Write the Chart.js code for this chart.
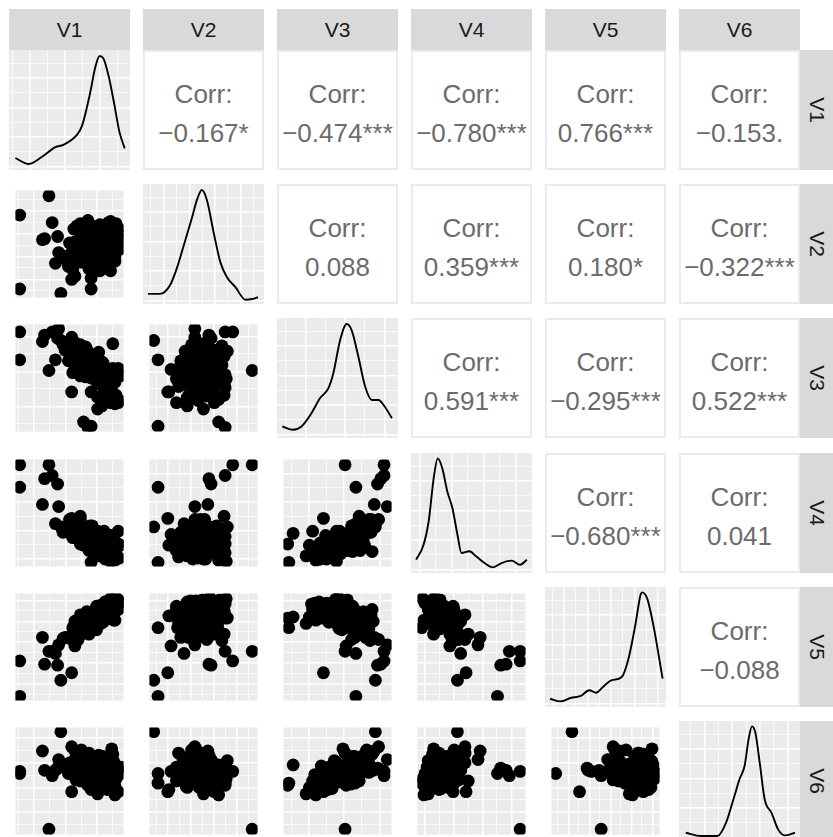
<!DOCTYPE html>
<html>
<head>
<meta charset="utf-8">
<script src="https://cdn.jsdelivr.net/npm/chart.js@4.4.1/dist/chart.umd.min.js"></script>
<style>
  html, body { margin: 0; padding: 0; background: #fff; }
  #wrap { position: relative; width: 833px; height: 837px; overflow: hidden;
          font-family: "Liberation Sans", Arial, Helvetica, sans-serif; }
  .strip { position: absolute; background: #D9D9D9; color: #1A1A1A; font-size: 21px;
           display: flex; align-items: center; justify-content: center; }
  .strip.right span { display: inline-block; transform: rotate(90deg); }
  .corr { position: absolute; background: #fff; border: 2px solid #EBEBEB; box-sizing: border-box;
          color: #6B6B6B; font-size: 26px; }
  .corr div { position: absolute; left: 0; right: 0; text-align: center; line-height: 30px; white-space: nowrap; }
  canvas { position: absolute; }
</style>
</head>
<body>
<div id="wrap"></div>
<script>
// variables, on the scale of their panel (0 = low edge, 1 = high edge)
const names = ['V1', 'V2', 'V3', 'V4', 'V5', 'V6'];

const v1 = [
  0.74, 0.78, 0.91, 0.65, 0.76, 0.73, 0.55, 0.84, 0.87, 0.68,
  0.67, 0.79, 0.77, 0.86, 0.46, 0.82, 0.70, 0.69, 0.88, 0.75,
  0.75, 0.56, 0.83, 0.89, 0.61, 0.72, 0.78, 0.68, 0.71, 0.83,
  0.81, 0.54, 0.76, 0.80, 0.60, 0.90, 0.70, 0.85, 0.50, 0.67,
  0.82, 0.63, 0.92, 0.73, 0.76, 0.59, 0.71, 0.95, 0.65, 0.77,
  0.74, 0.79, 0.69, 0.86, 0.53, 0.76, 0.78, 0.54, 0.89, 0.61,
  0.04, 0.04, 0.31, 0.42, 0.70, 0.63, 0.67, 0.76, 0.27, 0.34, 0.39, 0.40, 0.25,
  0.95, 0.70, 0.52, 0.55, 0.37, 0.88, 0.92, 0.80, 0.93, 0.86, 0.90, 0.60,
  0.52, 0.85, 0.69, 0.92, 0.60, 0.77, 0.88, 0.65, 0.81, 0.73,
  0.96, 0.57, 0.83, 0.71, 0.90, 0.49, 0.79, 0.86, 0.67, 0.75,
  0.93, 0.63, 0.82, 0.70, 0.87, 0.55, 0.78, 0.91, 0.66, 0.84,
  0.72, 0.89, 0.61, 0.80, 0.97, 0.68, 0.76, 0.44, 0.85, 0.74,
  0.90, 0.64, 0.81, 0.58, 0.88
];
const v2 = [
  0.48, 0.51, 0.38, 0.59, 0.44, 0.40, 0.42, 0.63, 0.50, 0.27,
  0.47, 0.34, 0.55, 0.60, 0.36, 0.49, 0.31, 0.62, 0.53, 0.53,
  0.45, 0.52, 0.46, 0.43, 0.38, 0.50, 0.25, 0.46, 0.67, 0.52,
  0.40, 0.35, 0.56, 0.47, 0.33, 0.46, 0.41, 0.54, 0.51, 0.37,
  0.52, 0.50, 0.38, 0.58, 0.35, 0.44, 0.32, 0.65, 0.54, 0.28,
  0.49, 0.53, 0.46, 0.40, 0.26, 0.57, 0.44, 0.64, 0.49, 0.39,
  0.08, 0.77, 0.95, 0.04, 0.08, 0.64, 0.70, 0.50, 0.55, 0.70, 0.57, 0.42, 0.54,
  0.60, 0.18, 0.17, 0.20, 0.32, 0.25, 0.34, 0.35, 0.69, 0.70, 0.45, 0.69,
  0.42, 0.55, 0.31, 0.64, 0.47, 0.38, 0.70, 0.51, 0.27, 0.58,
  0.45, 0.67, 0.35, 0.49, 0.61, 0.29, 0.53, 0.40, 0.72, 0.44,
  0.56, 0.33, 0.48, 0.63, 0.37, 0.52, 0.68, 0.41, 0.57, 0.30,
  0.50, 0.46, 0.60, 0.36, 0.54, 0.43, 0.65, 0.39, 0.59, 0.49,
  0.34, 0.62, 0.44, 0.53, 0.71
];
const v3 = [
  0.62, 0.45, 0.48, 0.63, 0.55, 0.53, 0.77, 0.58, 0.40, 0.57,
  0.56, 0.48, 0.74, 0.44, 0.76, 0.38, 0.50, 0.70, 0.43, 0.64,
  0.47, 0.64, 0.52, 0.55, 0.62, 0.59, 0.49, 0.60, 0.62, 0.33,
  0.46, 0.74, 0.45, 0.65, 0.52, 0.53, 0.57, 0.39, 0.79, 0.66,
  0.55, 0.67, 0.46, 0.54, 0.32, 0.68, 0.59, 0.59, 0.51, 0.60,
  0.49, 0.61, 0.61, 0.42, 0.55, 0.61, 0.51, 0.66, 0.48, 0.77,
  0.67, 0.93, 0.57, 0.85, 0.05, 0.09, 0.04, 0.21, 0.90, 0.93, 0.87, 0.96, 0.84,
  0.27, 0.37, 0.37, 0.58, 0.67, 0.27, 0.26, 0.24, 0.34, 0.41, 0.82, 0.70,
  0.88, 0.41, 0.66, 0.30, 0.81, 0.54, 0.53, 0.79, 0.42, 0.66,
  0.29, 0.80, 0.47, 0.70, 0.59, 0.66, 0.61, 0.34, 0.75, 0.54,
  0.51, 0.75, 0.49, 0.65, 0.35, 0.83, 0.50, 0.55, 0.74, 0.44,
  0.61, 0.39, 0.76, 0.51, 0.52, 0.71, 0.52, 0.81, 0.38, 0.64,
  0.49, 0.71, 0.64, 0.63, 0.49
];
const v4 = [
  0.24, 0.14, 0.13, 0.34, 0.19, 0.21, 0.35, 0.23, 0.07, 0.20,
  0.30, 0.15, 0.31, 0.13, 0.37, 0.10, 0.22, 0.38, 0.12, 0.25,
  0.19, 0.34, 0.13, 0.15, 0.30, 0.23, 0.15, 0.26, 0.28, 0.07,
  0.16, 0.37, 0.22, 0.23, 0.21, 0.12, 0.19, 0.18, 0.44, 0.26,
  0.20, 0.30, 0.10, 0.19, 0.12, 0.37, 0.20, 0.21, 0.24, 0.15,
  0.17, 0.22, 0.32, 0.10, 0.27, 0.25, 0.17, 0.36, 0.15, 0.34,
  0.74, 0.95, 0.95, 0.37, 0.04, 0.31, 0.21, 0.10, 0.82, 0.85, 0.77, 0.56, 0.58,
  0.33, 0.20, 0.45, 0.30, 0.40, 0.15, 0.12, 0.20, 0.22, 0.28, 0.14, 0.47,
  0.44, 0.12, 0.28, 0.06, 0.44, 0.22, 0.13, 0.35, 0.09, 0.34,
  0.08, 0.34, 0.10, 0.38, 0.16, 0.32, 0.28, 0.07, 0.37, 0.17,
  0.16, 0.20, 0.33, 0.26, 0.13, 0.40, 0.11, 0.25, 0.22, 0.21,
  0.16, 0.29, 0.30, 0.17, 0.20, 0.15, 0.33, 0.32, 0.20, 0.14,
  0.29, 0.28, 0.16, 0.38, 0.05
];
const v5 = [
  0.77, 0.86, 0.93, 0.71, 0.84, 0.80, 0.63, 0.84, 0.91, 0.81,
  0.70, 0.83, 0.82, 0.86, 0.59, 0.85, 0.82, 0.72, 0.89, 0.88,
  0.74, 0.67, 0.85, 0.93, 0.69, 0.78, 0.85, 0.68, 0.79, 0.92,
  0.87, 0.63, 0.79, 0.86, 0.67, 0.90, 0.81, 0.89, 0.59, 0.77,
  0.88, 0.69, 0.89, 0.81, 0.85, 0.64, 0.77, 0.94, 0.68, 0.79,
  0.78, 0.89, 0.70, 0.87, 0.68, 0.75, 0.82, 0.65, 0.94, 0.69,
  0.04, 0.37, 0.46, 0.19, 0.68, 0.78, 0.77, 0.72, 0.34, 0.46, 0.33, 0.52, 0.59,
  0.85, 0.79, 0.26, 0.51, 0.44, 0.88, 0.90, 0.78, 0.84, 0.80, 0.85, 0.62,
  0.57, 0.90, 0.78, 0.75, 0.80, 0.76, 0.90, 0.67, 0.73, 0.84,
  0.91, 0.56, 0.92, 0.73, 0.91, 0.59, 0.72, 0.91, 0.77, 0.66,
  0.96, 0.68, 0.87, 0.70, 0.77, 0.74, 0.83, 0.75, 0.83, 0.80,
  0.81, 0.81, 0.62, 0.88, 0.92, 0.62, 0.88, 0.58, 0.88, 0.72,
  0.78, 0.79, 0.84, 0.57, 0.95
];
const v6 = [
  0.57, 0.55, 0.68, 0.57, 0.60, 0.61, 0.78, 0.46, 0.57, 0.76,
  0.54, 0.58, 0.74, 0.55, 0.63, 0.53, 0.65, 0.59, 0.54, 0.65,
  0.55, 0.51, 0.64, 0.80, 0.63, 0.61, 0.63, 0.61, 0.47, 0.44,
  0.64, 0.69, 0.43, 0.68, 0.59, 0.55, 0.65, 0.52, 0.67, 0.73,
  0.62, 0.64, 0.53, 0.62, 0.53, 0.61, 0.64, 0.61, 0.56, 0.62,
  0.59, 0.69, 0.60, 0.57, 0.60, 0.63, 0.51, 0.56, 0.65, 0.79,
  0.57, 0.59, 0.05, 0.96, 0.48, 0.65, 0.46, 0.38, 0.60, 0.55, 0.62, 0.70, 0.78,
  0.40, 0.42, 0.40, 0.59, 0.60, 0.50, 0.45, 0.44, 0.52, 0.48, 0.75, 0.50,
  0.82, 0.42, 0.71, 0.37, 0.76, 0.57, 0.61, 0.58, 0.63, 0.48,
  0.56, 0.59, 0.69, 0.55, 0.59, 0.57, 0.66, 0.49, 0.69, 0.50,
  0.58, 0.59, 0.63, 0.54, 0.64, 0.60, 0.54, 0.49, 0.70, 0.56,
  0.70, 0.44, 0.66, 0.49, 0.63, 0.62, 0.62, 0.63, 0.51, 0.50,
  0.67, 0.57, 0.73, 0.51, 0.52
];

// density curves: [x, height]
const dens1 = [[0.053,0.10],[0.163,0.05],[0.273,0.11],[0.383,0.19],[0.449,0.21],[0.559,0.29],[0.604,0.37],
  [0.670,0.64],[0.714,0.86],[0.749,0.95],[0.780,0.93],[0.824,0.78],[0.868,0.56],[0.912,0.32],[0.956,0.18]];
const dens2 = [[0.042,0.084],[0.139,0.084],[0.222,0.154],[0.278,0.293],[0.333,0.475],[0.403,0.712],[0.45,0.88],
  [0.486,0.95],[0.528,0.866],[0.583,0.60],[0.639,0.349],[0.694,0.223],[0.764,0.14],[0.847,0.036],[0.903,0.042],[0.95,0.056]];
const dens3 = [[0.044,0.096],[0.133,0.069],[0.202,0.096],[0.285,0.207],[0.355,0.331],[0.424,0.413],[0.465,0.537],
  [0.521,0.813],[0.576,0.95],[0.618,0.895],[0.673,0.675],[0.729,0.427],[0.784,0.317],[0.839,0.317],[0.881,0.275],[0.950,0.165]];
const dens4 = [[0.042,0.111],[0.104,0.236],[0.146,0.431],[0.188,0.792],[0.221,0.955],[0.258,0.875],[0.30,0.68],
  [0.342,0.542],[0.384,0.319],[0.417,0.167],[0.482,0.181],[0.538,0.139],[0.608,0.083],[0.678,0.047],[0.748,0.083],
  [0.832,0.103],[0.902,0.069],[0.958,0.111]];
const dens5 = [[0.042,0.069],[0.127,0.047],[0.211,0.075],[0.296,0.092],[0.366,0.139],[0.423,0.119],[0.479,0.167],
  [0.549,0.222],[0.634,0.25],[0.69,0.403],[0.746,0.681],[0.789,0.931],[0.803,0.955],[0.845,0.903],[0.901,0.653],
  [0.944,0.403],[0.972,0.236]];
const dens6 = [[0.056,0.069],[0.181,0.042],[0.319,0.042],[0.389,0.153],[0.458,0.375],[0.50,0.514],[0.542,0.625],
  [0.575,0.847],[0.603,0.955],[0.631,0.903],[0.667,0.653],[0.708,0.347],[0.764,0.236],[0.819,0.097],[0.875,0.047],[0.958,0.069]];

// correlation labels, upper triangle row by row
const corrText = [
  ['\u22120.167*', '\u22120.474***', '\u22120.780***', '0.766***', '\u22120.153.'],
  ['0.088', '0.359***', '0.180*', '\u22120.322***'],
  ['0.591***', '\u22120.295***', '0.522***'],
  ['\u22120.680***', '0.041'],
  ['\u22120.088']
];

// grid breaks per variable (major, minor)
const majorBreaks = [
  [0.174, 0.463, 0.752],
  [0.171, 0.383, 0.595, 0.807],
  [0.236, 0.562, 0.888],
  [0.07, 0.336, 0.602, 0.868],
  [0.157, 0.351, 0.545, 0.739, 0.933],
  [0.21, 0.44, 0.67, 0.90]
];
const minorBreaks = [
  [0.03, 0.319, 0.608, 0.897],
  [0.065, 0.277, 0.489, 0.701, 0.913],
  [0.073, 0.399, 0.725],
  [0.203, 0.469, 0.735],
  [0.06, 0.254, 0.448, 0.642, 0.836],
  [0.095, 0.325, 0.555, 0.785]
];
const densMajor = [0.03, 0.275, 0.52, 0.765];
const densMinor = [0.152, 0.397, 0.642, 0.887];

const vars = [v1, v2, v3, v4, v5, v6];
const dens = [dens1, dens2, dens3, dens4, dens5, dens6];

const wrap = document.getElementById('wrap');
const PW = 121, PH = 120;
const colLeft = j => 9 + 134 * j;
const rowTop = i => Math.round(50 + 134.2 * i);

const panelBg = {
  id: 'panelBg',
  beforeDraw(chart) {
    const { ctx, chartArea: a } = chart;
    ctx.save();
    ctx.fillStyle = '#EBEBEB';
    ctx.fillRect(a.left, a.top, a.width, a.height);
    ctx.restore();
  }
};

function axis(major, minor) {
  const all = major.map(v => ({ value: v, major: true })).concat(minor.map(v => ({ value: v, major: false })));
  return {
    type: 'linear', min: 0, max: 1,
    border: { display: false },
    ticks: { display: false },
    grid: {
      color: '#FFFFFF', drawTicks: false, tickLength: 0,
      lineWidth: c => (c.tick && c.tick.major) ? 1.5 : 0.75
    },
    afterBuildTicks: ax => { ax.ticks = all.map(t => ({ value: t.value, major: t.major })); }
  };
}

function panel(i, j, datasets, yMajor, yMinor) {
  const cv = document.createElement('canvas');
  cv.width = PW; cv.height = PH;
  cv.style.left = colLeft(j) + 'px';
  cv.style.top = rowTop(i) + 'px';
  wrap.appendChild(cv);
  new Chart(cv, {
    type: 'scatter',
    data: { datasets },
    options: {
      responsive: false, animation: false, events: [],
      layout: { padding: 0 },
      plugins: { legend: { display: false }, tooltip: { enabled: false } },
      scales: { x: axis(majorBreaks[j], minorBreaks[j]), y: axis(yMajor, yMinor) }
    },
    plugins: [panelBg]
  });
}

// top strips
names.forEach((n, j) => {
  const s = document.createElement('div');
  s.className = 'strip';
  s.style.left = colLeft(j) + 'px'; s.style.top = '9px';
  s.style.width = PW + 'px'; s.style.height = '41px';
  s.textContent = n;
  wrap.appendChild(s);
});
// right strips
names.forEach((n, i) => {
  const s = document.createElement('div');
  s.className = 'strip right';
  s.style.left = '800px'; s.style.top = rowTop(i) + 'px';
  s.style.width = '33px'; s.style.height = PH + 'px';
  const sp = document.createElement('span');
  sp.textContent = n;
  s.appendChild(sp);
  wrap.appendChild(s);
});

for (let i = 0; i < 6; i++) {
  for (let j = 0; j < 6; j++) {
    if (i === j) {
      panel(i, j, [{
        data: dens[i].map(p => ({ x: p[0], y: p[1] })),
        showLine: true, pointRadius: 0, borderColor: '#000', borderWidth: 1.9,
        cubicInterpolationMode: 'monotone', fill: false
      }], densMajor, densMinor);
    } else if (i > j) {
      panel(i, j, [{
        data: vars[j].map((x, k) => ({ x, y: vars[i][k] })),
        pointRadius: 6.4, backgroundColor: '#000', borderWidth: 0
      }], majorBreaks[i], minorBreaks[i]);
    } else {
      const box = document.createElement('div');
      box.className = 'corr';
      box.style.left = colLeft(j) + 'px'; box.style.top = rowTop(i) + 'px';
      box.style.width = PW + 'px'; box.style.height = PH + 'px';
      const a = document.createElement('div');
      a.textContent = 'Corr:';
      a.style.top = (PH / 2 - 19.5 - 15 + 1) + 'px';
      const b = document.createElement('div');
      b.textContent = corrText[i][j - i - 1];
      b.style.top = (PH / 2 + 19.5 - 15 + 1) + 'px';
      box.appendChild(a); box.appendChild(b);
      wrap.appendChild(box);
    }
  }
}
</script>
</body>
</html>
